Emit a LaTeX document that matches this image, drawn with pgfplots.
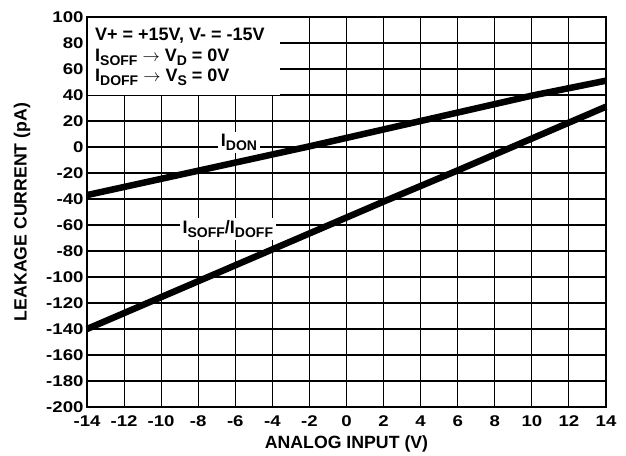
\documentclass[border=0pt]{standalone}
\usepackage{pgfplots}
\pgfplotsset{compat=1.18}
\usepackage{fontspec}
\setmainfont{Liberation Sans}[FakeStretch=1.2]
\newfontfamily\plainfont{Liberation Sans}
\newcommand{\sub}[1]{\raisebox{-3.3pt}{\fontsize{14}{15}\selectfont #1}}
\newcommand{\bigfont}{\plainfont\fontsize{18}{20}\selectfont\bfseries}
\begin{document}
\begin{tikzpicture}
\begin{axis}[
  name=ax,
  at={(0,0)}, anchor=south west,
  scale only axis,
  width=519pt, height=390pt,
  xmin=-14, xmax=14, ymin=-200, ymax=100,
  xtick={-14,-12,...,14},
  xticklabels={-14,-12,-10,-8,-6,-4,-2,0,2,4,6,8,10,12,14},
  ytick={-200,-180,...,100},
  yticklabels={-200,-180,-160,-140,-120,-100,-80,-60,-40,-20,0,20,40,60,80,100},
  grid=major,
  major grid style={black, line width=1.1pt},
  axis line style={black, line width=1.1pt},
  major tick length=0pt,
  tick label style={font=\fontsize{15.5}{17}\selectfont\bfseries},
  xticklabel style={yshift=-5pt},
  yticklabel style={xshift=0pt},
  label style={font=\plainfont\fontsize{17.7}{19}\selectfont\bfseries},
  xlabel={ANALOG INPUT (V)},
  ylabel={LEAKAGE CURRENT (pA)},
  xlabel style={at={(axis description cs:0.5,0)}, anchor=center, yshift=-37pt},
  ylabel style={at={(axis description cs:0,0.5)}, anchor=center, yshift=65pt},
  clip=false,
]
\fill[white] (axis cs:-14,40) rectangle (axis cs:-3.6,100);
\draw[black, line width=1.1pt] (axis cs:-14,40) -- (axis cs:-14,100) -- (axis cs:-3.6,100);
\node[anchor=base west, inner sep=0pt, font=\bigfont]
  at (axis cs:-13.57,82.3) {V+ = +15V, V- = -15V};
\node[anchor=base west, inner sep=0pt, font=\bigfont]
  at (axis cs:-13.57,65.4) {I\sub{SOFF} $\rightarrow$ V\sub{D} = 0V};
\node[anchor=base west, inner sep=0pt, font=\bigfont]
  at (axis cs:-13.57,50) {I\sub{DOFF} $\rightarrow$ V\sub{S} = 0V};
\addplot[black, line width=6.5pt, line cap=butt] coordinates {
  (-14,-37) (-10,-24.5) (-6,-12) (-2,0.5) (2,13.5) (6,26.5) (10,39.5) (14,51)};
\addplot[black, line width=6.5pt, line cap=butt] coordinates {
  (-14,-140) (-10,-115.5) (-6,-91) (-2,-66.5) (2,-42) (6,-18) (10,6.5) (14,31)};
\node[fill=white, inner sep=3pt, font=\bigfont]
  at (axis cs:-5.8,3.5) {I\sub{DON}};
\node[fill=white, inner sep=3pt, font=\bigfont]
  at (axis cs:-6.4,-63) {I\sub{SOFF}/I\sub{DOFF}};
\end{axis}
\pgfresetboundingbox
\path (-87pt,-48pt) rectangle (539pt,407pt);
\end{tikzpicture}
\end{document}
